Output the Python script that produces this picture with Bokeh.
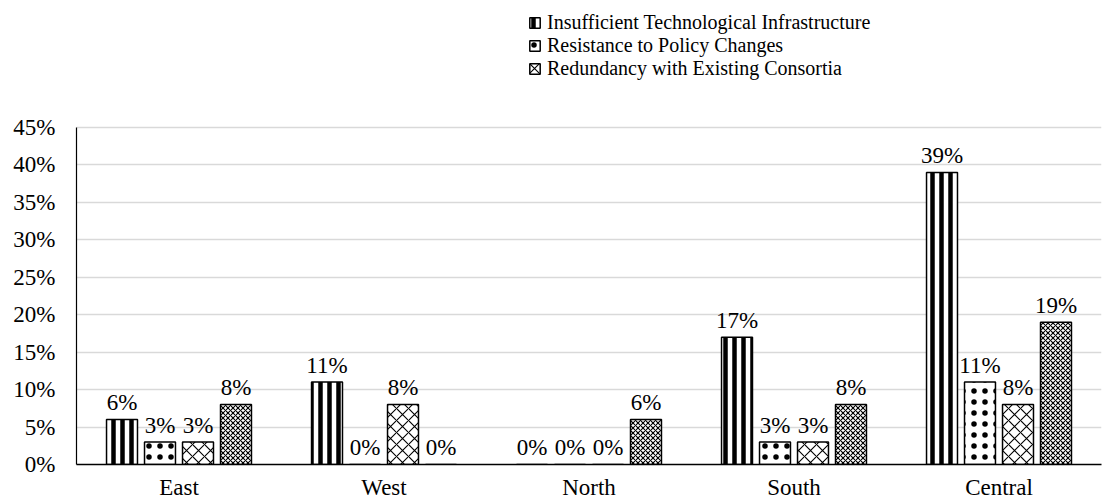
from bokeh.plotting import figure
from bokeh.models import (ColumnDataSource, FactorRange, Range1d, FixedTicker,
                          NumeralTickFormatter, Legend, LegendItem)
from bokeh.transform import dodge
from bokeh.embed import file_html
from bokeh.resources import INLINE

categories = ["East", "West", "North", "South", "Central"]
infrastructure = [0.06, 0.11, 0.00, 0.17, 0.39]
resistance = [0.03, 0.00, 0.00, 0.03, 0.11]
redundancy = [0.03, 0.08, 0.00, 0.03, 0.08]
fourth_series = [0.08, 0.00, 0.06, 0.08, 0.19]
series_names = ["Insufficient Technological Infrastructure",
                "Resistance to Policy Changes",
                "Redundancy with Existing Consortia",
                ""]
y_ticks = [0, 0.05, 0.10, 0.15, 0.20, 0.25, 0.30, 0.35, 0.40, 0.45]
y_max = 0.45

FONT = "Liberation Serif"

# frame runs to the top of the canvas so the legend above the axis is not clipped
FRAME_H = 464
AXIS_H = 337
y_end = y_max * FRAME_H / AXIS_H

p = figure(x_range=FactorRange(*categories, range_padding=0),
           y_range=Range1d(0, y_end),
           width=1104, height=503,
           output_backend="svg", toolbar_location=None,
           min_border_left=76, min_border_right=3,
           min_border_top=0, min_border_bottom=39)
p.outline_line_color = None
p.background_fill_color = "white"

styles = [
    dict(hatch_pattern="vertical_line", hatch_scale=9, hatch_weight=4.5),
    dict(hatch_pattern="dot", hatch_scale=11, hatch_weight=0.8),
    dict(hatch_pattern="diagonal_cross", hatch_scale=12, hatch_weight=1.1),
    dict(hatch_pattern="diagonal_cross", hatch_scale=5, hatch_weight=1.1),
]
offsets = [-0.278, -0.0927, 0.0927, 0.278]
all_series = [infrastructure, resistance, redundancy, fourth_series]

renderers = []
for vals, off, st in zip(all_series, offsets, styles):
    src = ColumnDataSource(dict(cat=categories, v=vals,
                                lbl=[f"{round(v*100):d}%" for v in vals]))
    r = p.vbar(x=dodge("cat", off, range=p.x_range), top="v", width=0.151,
               source=src, fill_color="white", line_color="black",
               line_width=1.5, hatch_color="black", **st)
    renderers.append(r)
    p.text(x=dodge("cat", off, range=p.x_range), y="v", text="lbl", source=src,
           text_align="center", text_baseline="alphabetic", y_offset=-17,
           text_font=FONT, text_font_size="23px", text_color="black")

items = [LegendItem(label=series_names[i], renderers=[renderers[i]]) for i in range(3)]
legend = Legend(items=items, location=(452, 384), orientation="vertical",
                border_line_color=None, background_fill_alpha=0,
                label_text_font=FONT, label_text_font_size="20px",
                label_text_color="black",
                glyph_width=13, glyph_height=13, label_standoff=6,
                spacing=0, label_height=23, padding=0, margin=0)
p.add_layout(legend, "center")

p.yaxis.ticker = FixedTicker(ticks=y_ticks)
p.yaxis.bounds = (0, y_max)
p.yaxis.formatter = NumeralTickFormatter(format="0%")
p.yaxis.major_tick_line_color = None
p.yaxis.minor_tick_line_color = None
p.yaxis.major_tick_out = 0
p.yaxis.major_tick_in = 0
p.yaxis.minor_tick_out = 0
p.yaxis.axis_line_color = "black"
p.yaxis.axis_line_width = 1.2
p.yaxis.major_label_text_font = FONT
p.yaxis.major_label_text_font_size = "23px"
p.yaxis.major_label_text_color = "black"
p.yaxis.major_label_standoff = 21

p.xaxis.major_tick_line_color = None
p.xaxis.minor_tick_line_color = None
p.xaxis.major_tick_out = 0
p.xaxis.major_tick_in = 0
p.xaxis.axis_line_color = "black"
p.xaxis.axis_line_width = 1.5
p.xaxis.major_label_text_font = FONT
p.xaxis.major_label_text_font_size = "23px"
p.xaxis.major_label_text_color = "black"
p.xaxis.major_label_standoff = 10

p.xgrid.grid_line_color = None
p.ygrid.grid_line_color = "#d9d9d9"
p.ygrid.grid_line_width = 1.5

open("out.html", "w").write(file_html(p, INLINE))
